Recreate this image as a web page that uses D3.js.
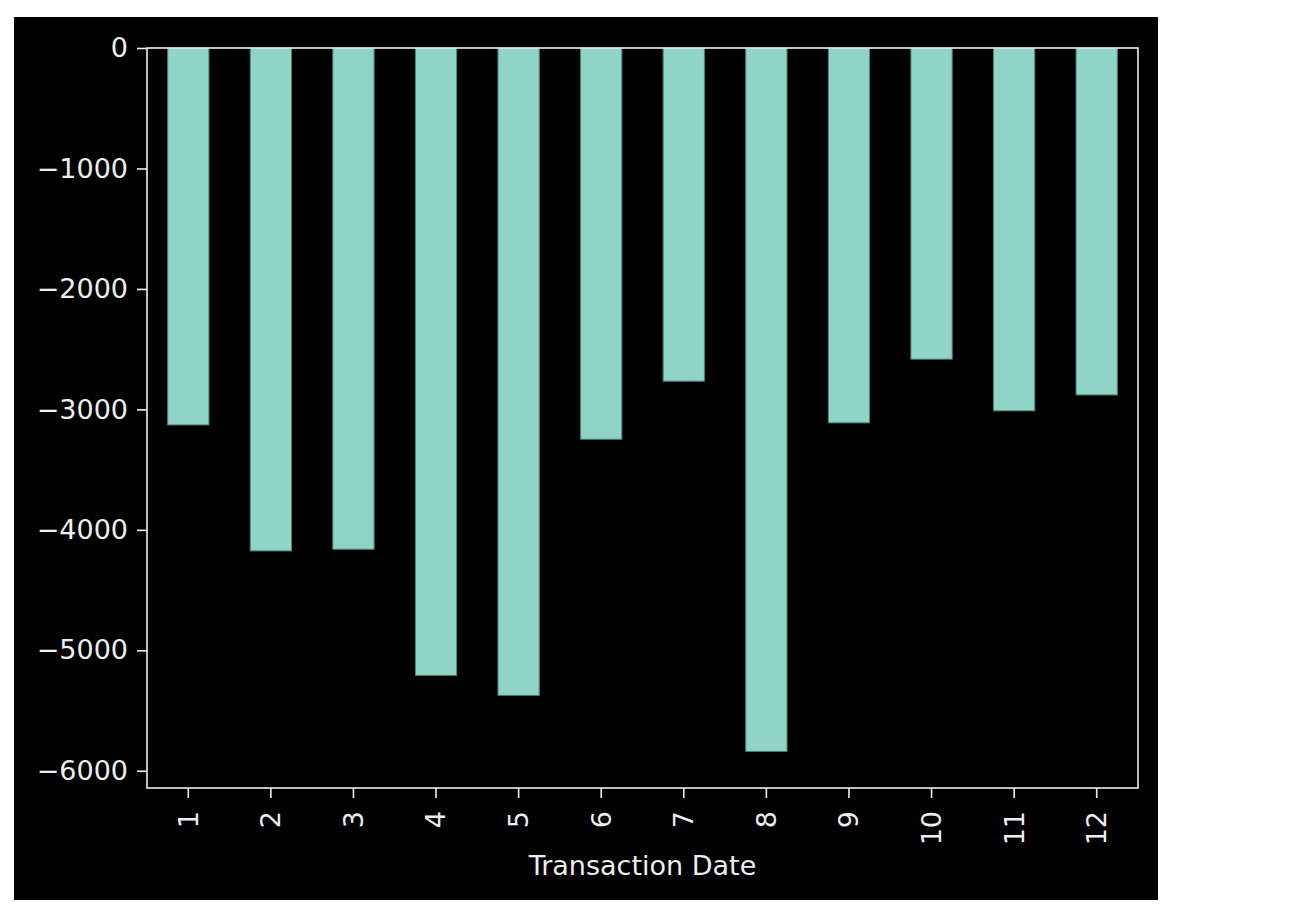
<!DOCTYPE html>
<html>
<head>
<meta charset="utf-8">
<script src="https://cdn.jsdelivr.net/npm/d3@7"></script>
<style>
  html, body { margin: 0; padding: 0; background: #ffffff; }
  svg { display: block; }
  text { font-family: "DejaVu Sans", sans-serif; }
</style>
</head>
<body>
<svg id="chart" width="1296" height="924"></svg>
<script>
const categories = ["1", "2", "3", "4", "5", "6", "7", "8", "9", "10", "11", "12"];
const values = [-3129, -4175, -4161, -5208, -5374, -3248, -2766, -5839, -3112, -2583, -3012, -2880];
const yTicks = [0, -1000, -2000, -3000, -4000, -5000, -6000];
const xLabel = "Transaction Date";

const svg = d3.select("#chart");
const fg = "#eeeeee";
const fontSize = 27;

// figure background
svg.append("rect").attr("x", 14).attr("y", 17).attr("width", 1144).attr("height", 883).attr("fill", "#000000");

const plot = { left: 147, right: 1138, top: 48, bottom: 788 };

const x = d3.scaleBand().domain(categories).range([plot.left, plot.right]).paddingInner(0.5).paddingOuter(0.25);
const y = d3.scaleLinear().domain([-6143, 0]).range([plot.bottom, plot.top]);

// bars
svg.append("g").selectAll("rect").data(values).join("rect")
  .attr("x", (d, i) => x(categories[i]))
  .attr("width", x.bandwidth())
  .attr("y", d => y(0))
  .attr("height", d => y(d) - y(0))
  .attr("fill", "#8fd4c6")
  .attr("stroke", "#4f7e76")
  .attr("stroke-width", 1);

// y axis
const yAxis = d3.axisLeft(y).tickValues(yTicks).tickSize(10).tickPadding(9)
  .tickFormat(d => d3.format("d")(d).replace("-", "\u2212"));
const gy = svg.append("g").attr("transform", `translate(${plot.left},0)`).call(yAxis);
gy.select(".domain").remove();
gy.selectAll("line").attr("stroke", fg).attr("stroke-width", 1.6);
gy.selectAll("text").attr("fill", fg).attr("font-size", fontSize).attr("font-family", "DejaVu Sans");

// x axis
const xAxis = d3.axisBottom(x).tickSize(10).tickPadding(0);
const gx = svg.append("g").attr("transform", `translate(0,${plot.bottom})`).call(xAxis);
gx.select(".domain").remove();
gx.selectAll("line").attr("stroke", fg).attr("stroke-width", 1.6);
gx.selectAll("text")
  .attr("fill", fg).attr("font-size", fontSize).attr("font-family", "DejaVu Sans")
  .attr("transform", "rotate(-90)")
  .attr("text-anchor", "end")
  .attr("x", -23)
  .attr("y", 0)
  .attr("dy", "0.35em");

// frame
svg.append("rect")
  .attr("x", plot.left).attr("y", plot.top)
  .attr("width", plot.right - plot.left).attr("height", plot.bottom - plot.top)
  .attr("fill", "none").attr("stroke", fg).attr("stroke-width", 1.6);

// x label
svg.append("text")
  .attr("x", (plot.left + plot.right) / 2)
  .attr("y", 875)
  .attr("text-anchor", "middle")
  .attr("fill", fg)
  .attr("font-size", fontSize)
  .text(xLabel);
</script>
</body>
</html>
